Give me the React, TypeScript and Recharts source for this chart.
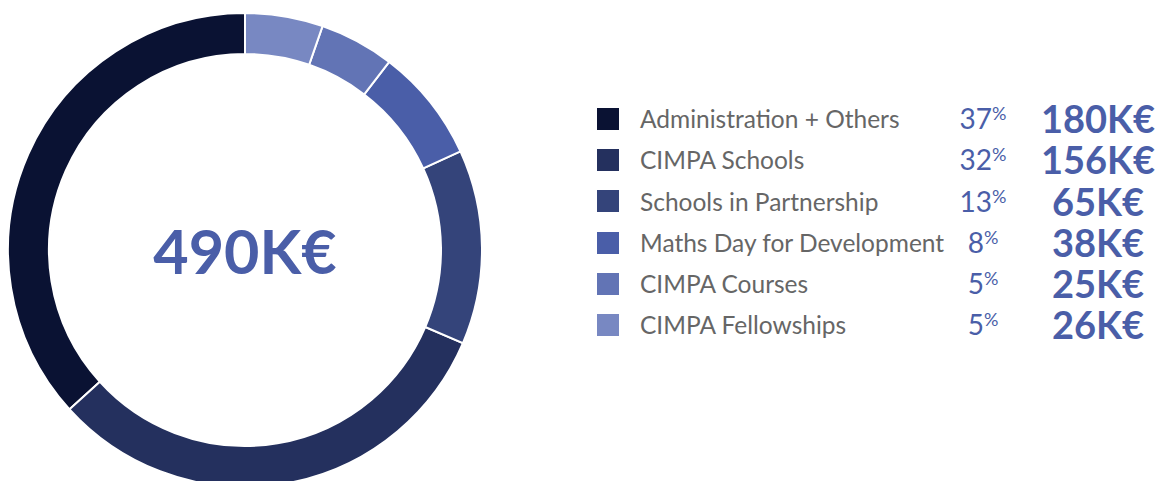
import { Cell, Pie, PieChart } from "recharts";

const categories = [
  "Administration + Others",
  "CIMPA Schools",
  "Schools in Partnership",
  "Maths Day for Development",
  "CIMPA Courses",
  "CIMPA Fellowships",
];
const amountsK = [180, 156, 65, 38, 25, 26];
const colors = ["#0a1233", "#24305e", "#34447a", "#4a5ea8", "#6274b5", "#7888c2"];

const FONT = "Lato, 'Noto Sans', sans-serif";
const BLUE = "#4a5ea8";
const ROW = 41.3;

const data = categories.map((name, i) => ({ name, value: amountsK[i] }));
const total = amountsK.reduce((a, b) => a + b, 0);

function BudgetLegend() {
  return (
    <div
      style={{
        position: "absolute",
        left: 597,
        top: 98,
        fontFamily: FONT,
      }}
    >
      {data.map((d, i) => (
        <div
          key={d.name}
          style={{ display: "flex", alignItems: "center", height: ROW }}
        >
          <span
            style={{
              width: 22,
              height: 22,
              background: colors[i],
              flex: "none",
            }}
          />
          <span
            style={{
              marginLeft: 21,
              width: 308,
              fontSize: 24.5,
              lineHeight: `${ROW}px`,
              color: "#666666",
              whiteSpace: "nowrap",
            }}
          >
            {d.name}
          </span>
          <span
            style={{
              width: 70,
              textAlign: "center",
              fontSize: 28,
              lineHeight: `${ROW}px`,
              color: BLUE,
              whiteSpace: "nowrap",
            }}
          >
            {Math.round((d.value / total) * 100)}
            <span style={{ fontSize: 18, verticalAlign: 9, lineHeight: 1 }}>%</span>
          </span>
          <span
            style={{
              width: 160,
              textAlign: "center",
              fontSize: 38,
              lineHeight: `${ROW}px`,
              fontWeight: 700,
              color: BLUE,
              whiteSpace: "nowrap",
            }}
          >
            {d.value}K€
          </span>
        </div>
      ))}
    </div>
  );
}

export default function App() {
  return (
    <div
      style={{
        position: "absolute",
        left: 0,
        top: 0,
        width: 1159,
        height: 481,
        background: "#fff",
      }}
    >
      <PieChart width={1159} height={481} margin={{ top: 0, right: 0, bottom: 0, left: 0 }}>
        <Pie
          data={data}
          dataKey="value"
          nameKey="name"
          cx={245}
          cy={250}
          innerRadius={196}
          outerRadius={237}
          startAngle={90}
          endAngle={450}
          stroke="#ffffff"
          strokeWidth={2}
          isAnimationActive={false}
        >
          {data.map((d, i) => (
            <Cell key={d.name} fill={colors[i]} />
          ))}
        </Pie>
      </PieChart>
      <div
        style={{
          position: "absolute",
          left: 45,
          width: 400,
          top: 214,
          textAlign: "center",
          fontFamily: FONT,
          fontSize: 61,
          fontWeight: 700,
          color: BLUE,
          lineHeight: "74px",
        }}
      >
        {total}K€
      </div>
      <BudgetLegend />
    </div>
  );
}
